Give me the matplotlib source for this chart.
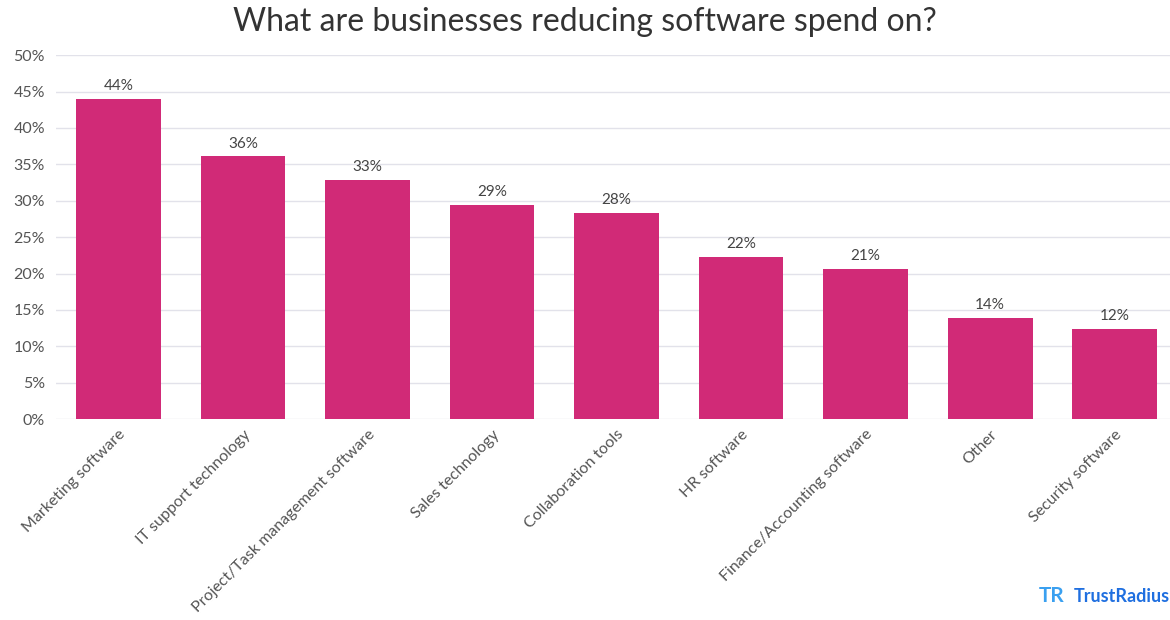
import numpy as np
import matplotlib
matplotlib.use('Agg')
import matplotlib.pyplot as plt

plt.rcParams['font.family'] = ['Lato', 'DejaVu Sans']

# 数据
categories = ['Marketing software', 'IT support technology', 'Project/Task management software',
              'Sales technology', 'Collaboration tools', 'HR software',
              'Finance/Accounting software', 'Other', 'Security software']
values = [44.0, 36.1, 32.9, 29.4, 28.3, 22.3, 20.6, 13.9, 12.4]
yticks = [0, 5, 10, 15, 20, 25, 30, 35, 40, 45, 50]

bar_color = '#D12A77'
text_color = '#555555'

fig = plt.figure(figsize=(11.7, 6.2), dpi=100)
ax = fig.add_axes([0.048, 0.324, 0.958, 0.587])

x = np.arange(len(categories))
ax.bar(x, values, width=0.68, color=bar_color, zorder=3)

for xi, v in zip(x, values):
    ax.text(xi, v + 0.8, f'{round(v):.0f}%', ha='center', va='bottom',
            fontsize=11, color='#444444')

ax.set_xlim(-0.5, len(categories) - 0.5)
ax.set_ylim(0, 50)
ax.set_yticks(yticks)
ax.set_yticklabels([f'{t}%' for t in yticks], fontsize=11.5, color=text_color)
ax.set_xticks(x)
ax.set_xticklabels(categories, rotation=45, ha='right', rotation_mode='anchor',
                   fontsize=11.5, color=text_color)
ax.tick_params(axis='y', length=0, pad=8)
ax.tick_params(axis='x', length=0, pad=6)
ax.grid(axis='y', color='#e2e2ea', linewidth=1, zorder=0)
for s in ax.spines.values():
    s.set_visible(False)

fig.text(0.5, 0.965, 'What are businesses reducing software spend on?', ha='center', va='center',
         fontsize=23, color='#333333')

# logo
fig.text(0.899, 0.038, 'TR', ha='center', va='center', fontsize=15, fontweight='bold',
         color='#3aa0f0')
fig.text(0.918, 0.038, 'TrustRadius', ha='left', va='center', fontsize=13, fontweight='bold',
         color='#1f6fe0')

fig.savefig('out.png', dpi=100)
